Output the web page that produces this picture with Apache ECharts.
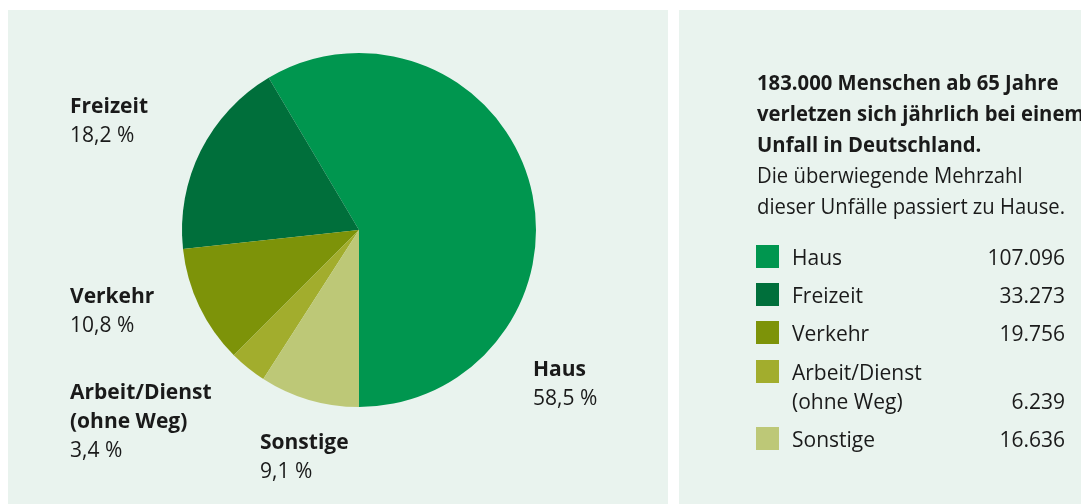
<!DOCTYPE html>
<html>
<head>
<meta charset="utf-8">
<script src="https://cdn.jsdelivr.net/npm/echarts@6/dist/echarts.min.js"></script>
<style>
html,body{margin:0;padding:0;background:#ffffff;}
#chart{width:1081px;height:504px;}
</style>
</head>
<body>
<div id="chart"></div>
<script>
// Data
var categories = ['Haus', 'Freizeit', 'Verkehr', 'Arbeit/Dienst\n(ohne Weg)', 'Sonstige'];
var values = [107096, 33273, 19756, 6239, 16636];
var colors = ['#00964f', '#006f3b', '#7d9309', '#a2ad2d', '#bdc877'];
var titleBold = ['183.000 Menschen ab 65 Jahre', 'verletzen sich jährlich bei einem', 'Unfall in Deutschland.'];
var titleRegular = ['Die überwiegende Mehrzahl', 'dieser Unfälle passiert zu Hause.'];

var total = values.reduce(function (a, b) { return a + b; }, 0);
function pct(v) { return (v / total * 100).toFixed(1).replace('.', ',') + ' %'; }
function fmtNum(v) { return String(v).replace(/\B(?=(\d{3})+(?!\d))/g, '.'); }

var FONT = '"Open Sans", "Noto Sans", sans-serif';
var TXT = '#1a1a1a';

// layout (label anchor positions, top-left of text block)
var labelPos = [[533, 356], [70, 93], [70, 283], [70, 379], [260, 429]];
var legendTop = [245, 283, 321, 360, 427];

var chart = echarts.init(document.getElementById('chart'), null, {renderer: 'canvas'});

var graphics = [
  {type: 'rect', shape: {x: 8, y: 10, width: 660, height: 494}, style: {fill: '#e9f3ee'}, z: -10},
  {type: 'rect', shape: {x: 679, y: 10, width: 402, height: 494}, style: {fill: '#e9f3ee'}, z: -10}
];

// Title text block
var richTitle = titleBold.map(function (t) { return '{b|' + t + '}'; })
  .concat(titleRegular.map(function (t) { return '{r|' + t + '}'; })).join('\n');
graphics.push({
  type: 'text', x: 757, y: 69, scaleX: 0.965, originX: 0, originY: 0,
  style: {
    text: richTitle, fill: TXT, font: '21px ' + FONT,
    rich: {
      b: {fontFamily: FONT, fontSize: 21, fontWeight: 'bold', lineHeight: 31, fill: TXT},
      r: {fontFamily: FONT, fontSize: 21, fontWeight: 'normal', lineHeight: 31, fill: TXT}
    }
  }
});

// Legend with values
categories.forEach(function (name, i) {
  var top = legendTop[i];
  var lines = name.split('\n');
  graphics.push({type: 'rect', shape: {x: 756, y: top, width: 23, height: 23}, style: {fill: colors[i]}});
  graphics.push({
    type: 'text', x: 792, y: top,
    style: {text: name, fontFamily: FONT, fontSize: 21, lineHeight: 29, fill: TXT, verticalAlign: 'top'}
  });
  graphics.push({
    type: 'text', x: 1065, y: top + (lines.length - 1) * 29,
    style: {text: fmtNum(values[i]), fontFamily: FONT, fontSize: 21, lineHeight: 29, fill: TXT, align: 'right', verticalAlign: 'top'}
  });
});

var option = {
  backgroundColor: 'transparent',
  animation: false,
  graphic: graphics,
  series: [{
    type: 'pie',
    center: [359, 230],
    radius: [0, 177],
    startAngle: 270,
    clockwise: false,
    silent: true,
    data: categories.map(function (c, i) {
      return {name: c, value: values[i], itemStyle: {color: colors[i]}};
    }),
    label: {
      show: true,
      position: 'outside',
      formatter: function (p) {
        return p.name.split('\n').map(function (l) { return '{b|' + l + '}'; }).join('\n') + '\n{p|' + pct(p.value) + '}';
      },
      rich: {
        b: {fontFamily: FONT, fontSize: 21, fontWeight: 'bold', lineHeight: 29, color: TXT},
        p: {fontFamily: FONT, fontSize: 21, fontWeight: 'normal', lineHeight: 29, color: TXT}
      }
    },
    labelLine: {show: false},
    labelLayout: function (params) {
      var pos = labelPos[params.dataIndex];
      return {x: pos[0], y: pos[1], align: 'left', verticalAlign: 'top'};
    }
  }]
};
chart.setOption(option);
</script>
</body>
</html>
